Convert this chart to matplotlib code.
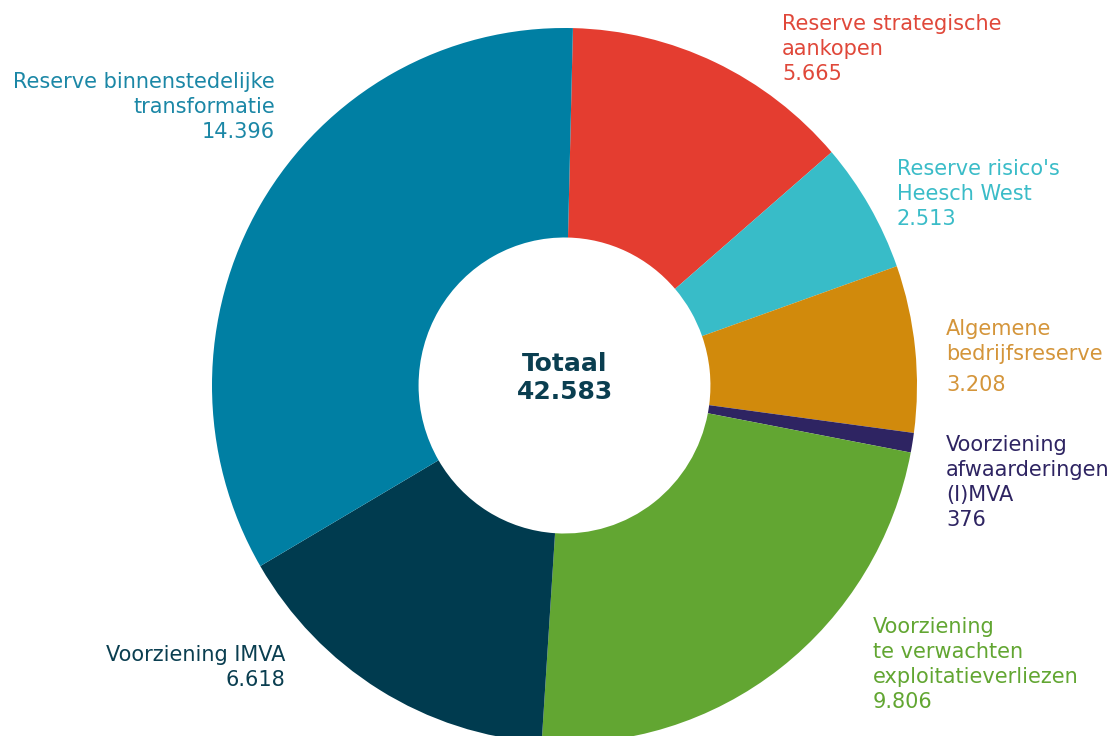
import matplotlib
matplotlib.use("Agg")
import matplotlib.pyplot as plt

labels = ["Reserve strategische\naankopen",
          "Reserve risico's\nHeesch West",
          "Algemene\nbedrijfsreserve",
          "Voorziening\nafwaarderingen\n(I)MVA",
          "Voorziening\nte verwachten\nexploitatieverliezen",
          "Voorziening IMVA",
          "Reserve binnenstedelijke\ntransformatie"]
values = [5665, 2513, 3208, 376, 9806, 6618, 14396]
value_labels = ["5.665", "2.513", "3.208", "376", "9.806", "6.618", "14.396"]
colors = ["#E43D30", "#38BCC8", "#D18A0C", "#2E2462", "#62A632", "#003B4F", "#007FA3"]
text_colors = ["#E0483A", "#3ABCC8", "#D4953A", "#2E2462", "#62A632", "#0A3E50", "#1B87A6"]
total_label = "Totaal\n42.583"

W, H = 1111, 736
sy = 357.5 / 352.5  # slight vertical stretch of the ring


def py(p):
    return (H - p) / sy


fig = plt.figure(figsize=(W / 100, H / 100), dpi=100)
ax = fig.add_axes([0, 0, 1, 1])

R = 352.5
ax.pie(values, colors=colors, startangle=88.63, counterclock=False,
       radius=R, center=(564.5, py(385.5)), frame=True,
       wedgeprops=dict(width=R * (1 - 0.414), linewidth=0))
ax.set_aspect("auto")
ax.set_xlim(0, W)
ax.set_ylim(0, H / sy)
ax.axis("off")

fs = 15
pos = [(782, 24, "left"), (897, 169, "left"), (946, 329, "left"),
       (946, 445, "left"), (873, 627, "left"), (285, 655, "right"),
       (275, 82, "right")]
for i, (x, y, ha) in enumerate(pos):
    lines = labels[i].split("\n")
    n = len(lines)
    for j, ln in enumerate(lines):
        ax.text(x, py(y + 25 * j), ln, ha=ha, va="center", fontsize=fs,
                color=text_colors[i], family="DejaVu Sans")
    extra = 6 if i == 2 else 0
    ax.text(x, py(y + 25 * n + extra), value_labels[i], ha=ha, va="center",
            fontsize=fs, color=text_colors[i], family="DejaVu Sans")

t1, t2 = total_label.split("\n")
ax.text(565, py(364), t1, ha="center", va="center", fontsize=18,
        fontweight="bold", color="#0A3E50", family="DejaVu Sans")
ax.text(565, py(392), t2, ha="center", va="center", fontsize=18,
        fontweight="bold", color="#0A3E50", family="DejaVu Sans")

fig.savefig("out.png", dpi=100)
